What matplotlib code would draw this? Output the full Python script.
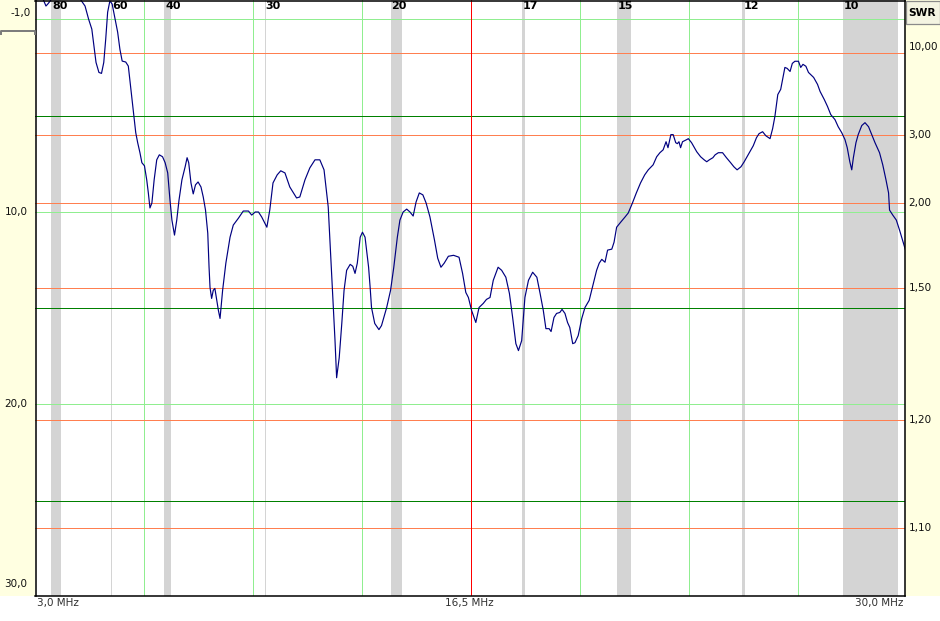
import matplotlib
matplotlib.use("Agg")
import numpy as np
import matplotlib.pyplot as plt
from matplotlib.patches import Rectangle
from matplotlib.lines import Line2D
import matplotlib.transforms as mtransforms

# ---------------- data ----------------
freq_mhz = [
    3.00, 3.15, 3.24, 3.33, 3.39, 3.46, 3.52, 3.61, 3.92, 4.23, 4.39,
    4.54, 4.65, 4.75, 4.83, 4.88, 4.97, 5.05, 5.12, 5.18, 5.24, 5.31, 5.38, 5.47, 5.55, 5.62, 5.69, 5.80, 5.88, 5.95, 6.03,
    6.11, 6.17, 6.24, 6.30, 6.38, 6.45, 6.50, 6.55, 6.61, 6.68, 6.76, 6.84, 6.94, 7.02, 7.10, 7.17, 7.23, 7.31, 7.38, 7.45,
    7.54, 7.64, 7.70, 7.75, 7.82, 7.89, 7.96, 8.04, 8.13, 8.20, 8.27, 8.34, 8.38, 8.41, 8.46, 8.51, 8.56, 8.62, 8.67, 8.72,
    8.80, 8.90, 9.03, 9.13, 9.29, 9.44, 9.60, 9.70, 9.81, 9.91, 10.01, 10.17, 10.26, 10.36, 10.49, 10.60, 10.73, 10.88, 11.09, 11.19,
    11.35, 11.50, 11.66, 11.81, 11.94, 12.07, 12.23, 12.28, 12.33, 12.41, 12.49, 12.56, 12.64, 12.75, 12.83, 12.90, 12.97, 13.06, 13.13, 13.21, 13.32,
    13.37, 13.41, 13.51, 13.64, 13.72, 13.88, 14.00, 14.10, 14.21, 14.29, 14.39, 14.50, 14.60, 14.70, 14.79, 14.89, 15.00, 15.10, 15.22, 15.36,
    15.46, 15.56, 15.66, 15.79, 15.95, 16.12, 16.23, 16.33, 16.41, 16.51, 16.64, 16.74, 16.87, 16.97, 17.08, 17.18, 17.33, 17.44, 17.57, 17.68,
    17.78, 17.88, 17.96, 18.06, 18.16, 18.27, 18.40, 18.53, 18.63, 18.73, 18.81, 18.91, 18.97, 19.06, 19.14, 19.24, 19.31, 19.40, 19.48, 19.55,
    19.64, 19.71, 19.81, 19.92, 20.02, 20.15, 20.28, 20.38, 20.46, 20.54, 20.64, 20.72, 20.85, 20.92, 21.00, 21.13, 21.26, 21.36, 21.49, 21.61,
    21.74, 21.87, 21.98, 22.13, 22.24, 22.34, 22.44, 22.53, 22.59, 22.68, 22.75, 22.83, 22.88, 22.93, 22.98, 23.04, 23.17, 23.22, 23.32, 23.48,
    23.60, 23.71, 23.79, 23.87, 23.98, 24.05, 24.15, 24.28, 24.40, 24.53, 24.63, 24.73, 24.85, 24.95, 25.02, 25.12,
    25.23, 25.33, 25.41, 25.52, 25.62, 25.75, 25.83, 25.90, 25.99, 26.08, 26.14, 26.21, 26.28, 26.37, 26.44, 26.52, 26.63, 26.70, 26.77, 26.86,
    26.94, 27.10, 27.22, 27.30, 27.43, 27.53, 27.63, 27.76, 27.86, 27.97, 28.07, 28.14, 28.22, 28.28, 28.33, 28.41, 28.48, 28.59, 28.69, 28.80,
    28.90, 29.00, 29.14, 29.24, 29.34, 29.42, 29.45, 29.55, 29.66, 29.76, 29.87, 29.90, 30.00,
]
return_loss_db = [
    -1.8, -1.3, -1.05, -0.69, -0.80, -0.95, -1.1, -1.6, -2.2, -1.6, -1.05,
    -0.69, -0.01, 0.51, 1.56, 2.24, 2.76, 2.81, 2.24, 1.04, -0.37, -0.96, -0.79, -0.01, 0.67, 1.56, 2.17, 2.22, 2.43, 3.47, 4.69,
    5.89, 6.41, 6.93, 7.45, 7.61, 8.34, 9.02, 9.80, 9.54, 8.34, 7.30, 7.04, 7.14, 7.45, 7.98, 9.39, 10.43, 11.21, 10.43, 9.39,
    8.34, 7.66, 7.19, 7.45, 8.50, 9.07, 8.60, 8.45, 8.71, 9.23, 9.91, 11.11, 12.88, 13.93, 14.50, 14.08, 13.98, 14.60, 15.13, 15.54,
    14.08, 12.67, 11.32, 10.69, 10.33, 9.96, 9.96, 10.17, 10.01, 10.01, 10.27, 10.80, 9.91, 8.50, 8.08, 7.87, 7.98, 8.71, 9.28, 9.23,
    8.34, 7.72, 7.30, 7.30, 7.82, 9.75, 14.97, 16.69, 18.62, 17.58, 15.80, 14.08, 13.04, 12.73, 12.83, 13.20, 12.67, 11.32, 11.06, 11.32, 12.88,
    13.98, 14.97, 15.80, 16.12, 15.91, 14.97, 14.08, 12.88, 11.32, 10.43, 10.01, 9.86, 10.01, 10.22, 9.49, 9.02, 9.12, 9.54, 10.27, 11.47,
    12.41, 12.88, 12.67, 12.31, 12.26, 12.36, 13.20, 14.19, 14.45, 15.13, 15.75, 14.97, 14.76, 14.55, 14.45, 13.56, 12.88, 13.04, 13.40, 14.24,
    15.49, 16.85, 17.21, 16.69, 14.45, 13.56, 13.14, 13.40, 14.24, 15.13, 16.07, 16.07, 16.22, 15.49, 15.28, 15.23, 15.07, 15.28, 15.75, 16.01,
    16.85, 16.80, 16.43, 15.54, 14.97, 14.60, 13.72, 13.04, 12.67, 12.47, 12.62, 11.99, 11.94, 11.58, 10.80, 10.53, 10.27, 10.06, 9.54, 9.02,
    8.50, 8.08, 7.82, 7.56, 7.14, 6.93, 6.78, 6.36, 6.67, 5.99, 5.99, 6.41, 6.46, 6.36, 6.67, 6.36, 6.25, 6.20, 6.41, 6.88,
    7.14, 7.30, 7.40, 7.30, 7.19, 7.04, 6.93, 6.93, 7.19, 7.45, 7.66, 7.82, 7.66, 7.40, 7.19, 6.88,
    6.57, 6.15, 5.94, 5.84, 6.05, 6.20, 5.68, 5.05, 3.91, 3.64, 3.12, 2.50, 2.55, 2.71, 2.29, 2.18, 2.18, 2.50, 2.34, 2.44,
    2.76, 3.02, 3.38, 3.75, 4.17, 4.53, 4.95, 5.21, 5.58, 5.89, 6.25, 6.67, 7.40, 7.82, 7.19, 6.41, 5.99, 5.52, 5.37, 5.58,
    5.99, 6.41, 6.93, 7.56, 8.34, 9.02, 9.91, 10.17, 10.43, 10.95, 11.58, 11.74, 12.30,
]
assert len(freq_mhz) == len(return_loss_db)

band_names = ["80", "60", "40", "30", "20", "17", "15", "12", "10"]
band_start_mhz = [3.5, 5.351, 7.0, 10.1, 14.0, 18.068, 21.0, 24.89, 28.0]
band_end_mhz = [3.8, 5.367, 7.2, 10.15, 14.35, 18.168, 21.45, 24.99, 29.7]

rl_tick_values = [-1.0, 10.0, 20.0, 30.0]
rl_grid_light = [0.0, 10.0, 20.0]
rl_grid_dark = [5.0, 15.0, 25.0]
swr_levels = [10.0, 3.0, 2.0, 1.5, 1.2, 1.1]
swr_labels = ["10,00", "3,00", "2,00", "1,50", "1,20", "1,10"]
f_start, f_center, f_stop = 3.0, 16.5, 30.0
freq_labels = ["3,0 MHz", "16,5 MHz", "30,0 MHz"]
n_divisions = 8

# ---------------- figure ----------------
W, H = 940, 621
fig = plt.figure(figsize=(W / 100, H / 100), dpi=100)
fig.patch.set_facecolor("white")
PX = 0.72  # one pixel in points


def X(px):
    return px / W


def Y(py):
    return 1 - py / H


ax_l, ax_r, ax_t, ax_b = 35.3, 907.3, 0.05, 596.8
ax = fig.add_axes([X(ax_l), Y(ax_b), (ax_r - ax_l) / W, (ax_b - ax_t) / H])
ax.set_xlim(f_start, f_stop)
ax.set_ylim(30, -1)
ax.set_axis_off()

# ham bands
for s, e in zip(band_start_mhz, band_end_mhz):
    ax.axvspan(s, e, color="#D4D4D4", lw=0, zorder=1)

# vertical grid
for i in range(1, n_divisions):
    f = f_start + i * (f_stop - f_start) / n_divisions
    if abs(f - f_center) < 1e-6:
        ax.axvline(f, color="#FF0000", lw=PX, zorder=2.5)
    else:
        ax.axvline(f, color="#90EE90", lw=PX, zorder=2)

# horizontal grid
for v in rl_grid_light:
    ax.axhline(v, color="#90EE90", lw=PX, zorder=2)
for v in rl_grid_dark:
    ax.axhline(v, color="#008000", lw=PX, zorder=2.2)
swr_rl = [-20 * np.log10((s - 1) / (s + 1)) for s in swr_levels]
for v in swr_rl:
    ax.axhline(v, color="#FF7F50", lw=PX, zorder=2.3)

# curve
ax.plot(freq_mhz, return_loss_db, color="#000080", lw=0.85, zorder=5)

# band labels
for name, s in zip(band_names, band_start_mhz):
    ax.annotate(name, xy=(s, 1), xycoords=("data", "axes fraction"),
                xytext=(1, -1), textcoords="offset pixels",
                ha="left", va="top", fontsize=8, fontweight="bold",
                color="black", zorder=6, family="DejaVu Sans")

# ---------------- panels ----------------
panel_col = "#FFFFE1"
fig.patches.append(Rectangle((X(0), Y(595.5)), 35 / W, 595.5 / H, transform=fig.transFigure,
                             facecolor=panel_col, edgecolor="none", zorder=2))
fig.patches.append(Rectangle((X(905), Y(595.5)), 35 / W, 595.5 / H, transform=fig.transFigure,
                             facecolor=panel_col, edgecolor="none", zorder=2))
fig.patches.append(Rectangle((X(35), Y(621)), 905 / W, 25.5 / H, transform=fig.transFigure,
                             facecolor="white", edgecolor="none", zorder=2))
# SWR header box
fig.patches.append(Rectangle((X(905.5), Y(24)), 34 / W, 23.5 / H, transform=fig.transFigure,
                             facecolor="#F4F4E2", edgecolor="#8A8A8A", lw=0.9, zorder=3))
fig.text(X(922.5), Y(12.5), "SWR", ha="center", va="center", fontsize=7.7,
         fontweight="bold", color="black", zorder=4)

# plot frame
for (x0, y0, x1, y1) in [(35, 0.5, 905, 0.5), (35, 595.5, 905, 595.5),
                         (35.5, 0, 35.5, 596), (904.5, 0, 904.5, 596)]:
    fig.lines.append(Line2D([X(x0), X(x1)], [Y(y0), Y(y1)], transform=fig.transFigure,
                            color="black", lw=1.1, zorder=3.5))

# small bracket on the left panel
fig.lines.append(Line2D([X(0.5), X(0.5), X(34.5), X(34.5)], [Y(34), Y(30.5), Y(30.5), Y(34)],
                        transform=fig.transFigure, color="#7A7A7A", lw=1.4, zorder=3.5))

# ---------------- axis labels ----------------
ytrans = mtransforms.blended_transform_factory(fig.transFigure, ax.transData)
rl_offsets = {-1.0: -13, 10.0: 0, 20.0: 0, 30.0: 13}
for v in rl_tick_values:
    txt = f"{v:.1f}".replace(".", ",")
    tr = mtransforms.offset_copy(ytrans, fig=fig, x=0, y=rl_offsets[v], units="dots")
    xr = 30.5 if v < 0 else 27.5
    fig.text(X(xr), v, txt, transform=tr, ha="right", va="center", fontsize=7.5,
             color="#101010", zorder=4)

swr_offsets = [6, 0, 0, 0, 0, 0]
for v, lab, off in zip(swr_rl, swr_labels, swr_offsets):
    tr = mtransforms.offset_copy(ytrans, fig=fig, x=0, y=off, units="dots")
    fig.text(X(908.5), v, lab, transform=tr, ha="left", va="center", fontsize=7.5,
             color="#101010", zorder=4)

xtrans = mtransforms.blended_transform_factory(ax.transData, fig.transFigure)
for f, lab, ha, off in zip([f_start, f_center, f_stop], freq_labels,
                           ["left", "center", "right"], [2, -2, -4]):
    tr = mtransforms.offset_copy(xtrans, fig=fig, x=off, y=0, units="dots")
    fig.text(f, Y(603), lab, transform=tr, ha=ha, va="center", fontsize=7.5,
             color="#303030", zorder=4)

fig.savefig("out.png", dpi=100, facecolor="white")
